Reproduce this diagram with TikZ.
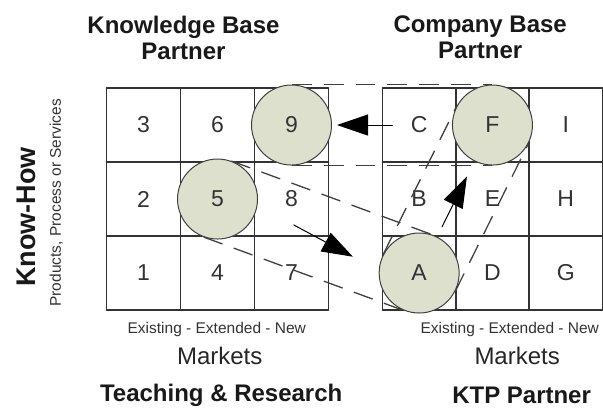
\documentclass[tikz,border=0pt]{standalone}
\usepackage{fontspec}
\setmainfont{Liberation Sans}
\usetikzlibrary{arrows.meta}
\definecolor{discfill}{HTML}{DDE0CC}
\begin{document}
\begin{tikzpicture}[x=74pt,y=74pt,line join=round,line cap=round,
	cell/.style={font=\fontsize{23}{23}\selectfont,text=black!80},
	disc/.style={circle,draw=black!75,line width=1pt,fill=discfill,minimum size=80pt,inner sep=0pt,font=\fontsize{23}{23}\selectfont,text=black!80},
	link/.style={line cap=butt,dash pattern=on 20pt off 12pt,draw=black!75,line width=1.3pt},
	arr/.style={-{Triangle[length=31pt,width=21pt]},line width=1pt},
	title/.style={font=\fontsize{24}{26}\selectfont\bfseries,align=center,text=black!90},
	axis/.style={font=\fontsize{15.5}{16}\selectfont,text=black!80},
	market/.style={font=\fontsize{24}{24}\selectfont,text=black!85}]
	\useasboundingbox (-1.44,-1.35) rectangle (6.71,4.19);
	\draw[black!80,line width=1.5pt,step=1] (0,0) grid (3,3);
	\foreach \t/\c/\r in {1/0/0,2/0/1,3/0/2,4/1/0,6/1/2,7/2/0,8/2/1}
		\node[cell] (n\t) at (\c+.5,\r+.5) {\t};
	\node[disc] (n5) at (1.5,1.5) {5};
	\node[disc] (n9) at (2.5,2.5) {9};
	\begin{scope}[shift={(3.73,0)},x=73.3pt]
		\draw[black!80,line width=1.5pt,step=1] (0,0) grid (3,3);
		\foreach \t/\c/\r in {B/0/1,C/0/2,D/1/0,E/1/1,G/2/0,H/2/1,I/2/2}
			\node[cell] (\t) at (\c+.5,\r+.5) {\t};
		\node[disc] (A) at (.5,.5) {A};
		\node[disc] (F) at (1.5,2.5) {F};
	\end{scope}
	\draw[link] (n9.north)--(F.north) (n9.south)--(F.south);
	\draw[link] (n5.70)--(A.70) (n5.250)--(A.250);
	\draw[link] (A.153)--(F.153) (A.-27)--(F.-27);
	\coordinate (from8) at (2.53,1.15);
	\coordinate (toA) at (3.33,.72);
	\draw[arr,shorten <=15pt,shorten >=5pt] (C)--(n9);
	\draw[arr] (from8)--(toA);
	\draw[arr,shorten <=11pt,shorten >=17pt] (A)--(F);
	\node[title] (kbp) at (1.04,3.68) {Knowledge Base\\Partner};
	\node[title] (cbp) at (5.05,3.68) {Company Base\\Partner};
	\node[rotate=90,font=\fontsize{27}{27}\selectfont\bfseries,text=black!90] (kh) at (-1.08,1.26) {Know-How};
	\node[rotate=90,axis] (pps) at (-.68,1.45) {Products, Process or Services};
	\node[axis] (eenl) at (1.49,-.27) {Existing - Extended - New};
	\node[axis] (eenr) at (5.45,-.27) {Existing - Extended - New};
	\node[market] (mkl) at (1.53,-.62) {Markets};
	\node[market] (mkr) at (5.55,-.62) {Markets};
	\node[title] (tr) at (1.55,-1.16) {Teaching \& Research};
	\node[title] (ktp) at (5.61,-1.16) {KTP Partner};
\end{tikzpicture}
\end{document}
